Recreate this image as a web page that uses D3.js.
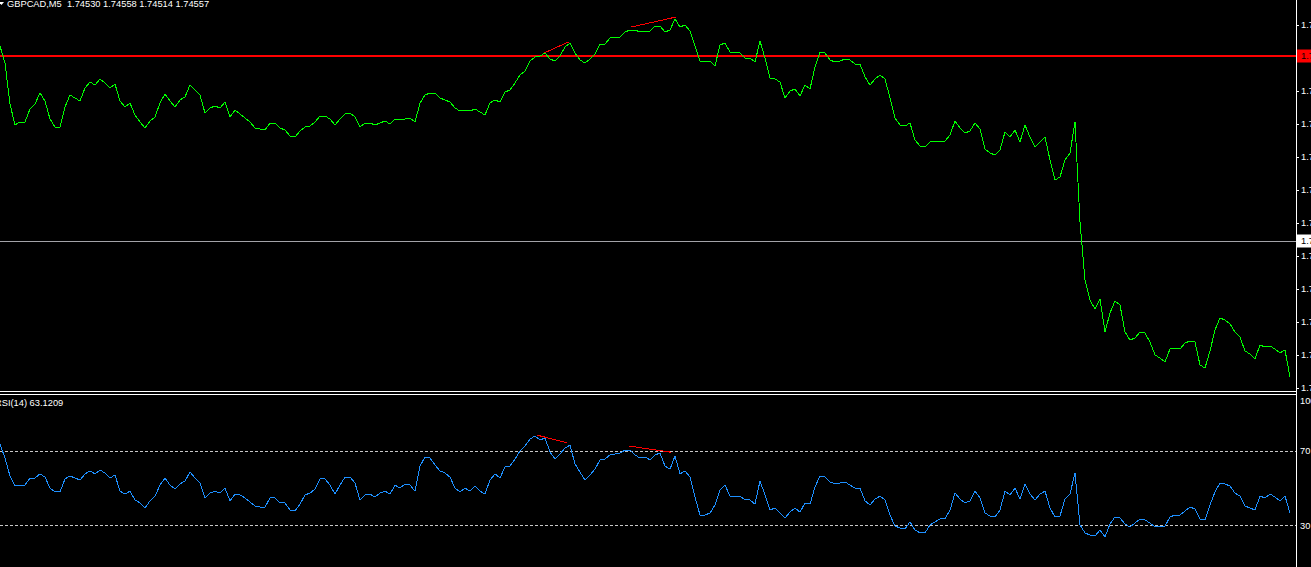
<!DOCTYPE html>
<html><head><meta charset="utf-8">
<script src="https://cdn.jsdelivr.net/npm/d3@7"></script>
<style>html,body{margin:0;padding:0;background:#000;overflow:hidden}svg{display:block}text{white-space:pre}</style>
</head><body><div id="chart"></div>
<script>
const symbolTitle = "GBPCAD,M5  1.74530 1.74558 1.74514 1.74557";
const rsiTitle = "RSI(14) 63.1209";

const prices = [
1.74888,1.74871,1.74830,1.74809,1.74812,1.74812,1.74825,1.74830,1.74841,1.74833,
1.74815,1.74807,1.74807,1.74827,1.74839,1.74836,1.74833,1.74846,1.74852,1.74849,
1.74855,1.74851,1.74846,1.74850,1.74833,1.74827,1.74831,1.74819,1.74812,1.74806,
1.74813,1.74817,1.74831,1.74840,1.74833,1.74827,1.74834,1.74837,1.74849,1.74844,
1.74839,1.74821,1.74826,1.74828,1.74826,1.74832,1.74817,1.74824,1.74820,1.74816,
1.74812,1.74806,1.74805,1.74804,1.74811,1.74811,1.74806,1.74804,1.74798,1.74797,
1.74803,1.74807,1.74808,1.74812,1.74818,1.74818,1.74815,1.74809,1.74815,1.74820,
1.74821,1.74817,1.74807,1.74811,1.74811,1.74809,1.74811,1.74813,1.74810,1.74815,
1.74814,1.74815,1.74816,1.74812,1.74831,1.74839,1.74841,1.74841,1.74836,1.74834,
1.74832,1.74826,1.74823,1.74824,1.74823,1.74825,1.74822,1.74819,1.74831,1.74834,
1.74832,1.74842,1.74844,1.74851,1.74859,1.74863,1.74873,1.74877,1.74878,1.74881,
1.74875,1.74873,1.74878,1.74887,1.74891,1.74881,1.74874,1.74871,1.74875,1.74880,
1.74890,1.74890,1.74896,1.74897,1.74897,1.74902,1.74904,1.74904,1.74902,1.74903,
1.74903,1.74908,1.74908,1.74902,1.74904,1.74915,1.74907,1.74909,1.74903,1.74888,
1.74873,1.74873,1.74873,1.74868,1.74889,1.74891,1.74882,1.74882,1.74881,1.74876,
1.74876,1.74872,1.74893,1.74876,1.74856,1.74855,1.74852,1.74836,1.74843,1.74845,
1.74838,1.74849,1.74845,1.74867,1.74882,1.74881,1.74874,1.74872,1.74873,1.74875,
1.74874,1.74870,1.74870,1.74857,1.74849,1.74855,1.74859,1.74855,1.74836,1.74816,
1.74809,1.74808,1.74811,1.74794,1.74788,1.74787,1.74792,1.74793,1.74793,1.74793,
1.74799,1.74813,1.74806,1.74801,1.74803,1.74811,1.74805,1.74785,1.74781,1.74779,
1.74784,1.74802,1.74797,1.74804,1.74792,1.74809,1.74797,1.74787,1.74792,1.74797,
1.74774,1.74754,1.74757,1.74774,1.74781,1.74812,1.74712,1.74654,1.74634,1.74625,
1.74635,1.74602,1.74621,1.74633,1.74629,1.74602,1.74594,1.74596,1.74602,1.74601,
1.74592,1.74579,1.74576,1.74572,1.74585,1.74586,1.74585,1.74591,1.74593,1.74592,
1.74569,1.74566,1.74583,1.74604,1.74616,1.74614,1.74610,1.74602,1.74597,1.74583,
1.74580,1.74575,1.74589,1.74587,1.74588,1.74585,1.74581,1.74584,1.74557
];

const rsi = [
73.8,66.2,56.6,51.2,51.7,51.7,55.5,55.5,57.7,56.0,
50.1,48.0,48.0,55.0,56.6,55.5,54.4,57.7,59.3,57.7,
59.8,58.2,55.5,57.1,48.5,46.9,48.5,43.7,42.1,39.4,
43.2,45.8,51.7,55.5,51.7,49.6,52.3,53.9,58.7,55.5,
52.8,44.8,47.4,48.5,47.4,50.1,43.2,46.9,46.4,44.8,
42.6,40.5,39.9,39.9,44.8,44.8,42.1,42.1,38.3,37.8,
41.5,46.4,47.4,49.6,55.0,55.0,51.7,46.9,51.7,56.0,
56.0,52.8,43.7,46.4,46.9,45.3,47.4,48.5,46.9,51.7,
50.1,52.3,51.7,48.5,61.9,66.8,66.2,62.5,59.3,58.2,
56.0,50.1,48.0,50.1,48.5,51.2,48.5,46.9,54.4,57.7,
55.5,61.4,61.9,65.7,70.0,72.7,76.4,78.1,75.9,77.0,
69.5,65.7,68.4,71.6,73.2,63.0,58.7,54.4,57.1,60.3,
65.2,65.7,67.9,68.4,68.9,70.5,70.5,67.9,66.2,66.8,
65.2,67.9,68.9,61.9,60.3,67.3,57.7,59.3,56.0,45.3,
35.6,35.6,36.7,41.0,49.1,51.7,45.8,45.8,45.8,43.7,
43.7,41.5,53.9,46.4,38.3,39.4,36.7,34.0,37.2,39.4,
37.2,42.1,41.5,50.7,56.6,56.0,53.4,52.3,52.8,53.4,
51.7,50.1,50.1,43.2,41.0,44.2,45.8,43.7,35.6,29.7,
28.7,28.1,31.9,27.6,26.0,26.0,30.3,31.9,33.5,33.5,
38.3,47.4,44.2,42.1,43.2,48.5,44.8,36.7,35.1,34.6,
38.3,48.5,46.4,50.1,44.2,52.3,46.9,43.7,46.9,48.5,
39.4,34.6,35.1,44.2,46.9,58.2,30.3,26.0,24.9,24.4,
27.6,23.8,30.8,34.6,34.0,30.8,29.2,31.3,33.5,33.0,
31.3,29.2,29.2,29.7,34.6,35.6,35.6,37.8,39.9,38.9,
33.5,33.0,41.0,48.0,52.8,52.3,51.2,47.4,45.8,40.5,
39.4,38.3,45.8,44.8,46.9,45.3,43.2,45.8,36.7
];

const priceTicks = [1.74909,1.74876,1.74843,1.74810,1.74777,1.74744,1.74711,1.74678,1.74645,1.74612,1.74579,1.74546];
const rsiTicks = [100, 70, 30];
const rsiLevels = [70, 30];
const redLevel = 1.74878;
const grayLevel = 1.74693;
const priceDivergences = [[[108.8,1.74881],[113.7,1.74892]], [[126.3,1.74907],[135.2,1.74917]]];
const rsiDivergences = [[[107.3,78.6],[113.3,74.5]], [[125.7,72.7],[134.3,69.3]]];

const W = 1311, H = 567;
const axisX = 1296.5;
const FONT = "'Liberation Sans', Arial, sans-serif";

const svg = d3.select("#chart").append("svg").attr("width", W).attr("height", H)
  .style("background", "#000");

const x = d3.scaleLinear().domain([0, prices.length - 1]).range([0, 1290]);
const yP = d3.scaleLinear().domain([1.74545, 1.74934]).range([389, 0]);
const yR = d3.scaleLinear().domain([30, 70]).range([525.5, 451]);

const defs = svg.append("defs");
defs.append("clipPath").attr("id", "clipP").append("rect").attr("x", 0).attr("y", 0).attr("width", 1296).attr("height", 390);
defs.append("clipPath").attr("id", "clipR").append("rect").attr("x", 0).attr("y", 395).attr("width", 1296).attr("height", H - 395);

// ---- Price panel ----
const gP = svg.append("g").attr("clip-path", "url(#clipP)");
gP.append("line").attr("x1", 0).attr("x2", 1297).attr("y1", yP(grayLevel)).attr("y2", yP(grayLevel))
  .attr("stroke", "#a3a3a8").attr("stroke-width", 1).attr("shape-rendering", "crispEdges");
gP.append("line").attr("x1", 0).attr("x2", 1297).attr("y1", yP(redLevel)).attr("y2", yP(redLevel))
  .attr("stroke", "#ff0000").attr("stroke-width", 2).attr("shape-rendering", "crispEdges");

const lineP = d3.line().x((d, i) => x(i)).y(d => yP(d));
gP.append("path").datum(prices).attr("d", lineP).attr("fill", "none")
  .attr("stroke", "#00ff00").attr("stroke-width", 1).attr("shape-rendering", "crispEdges");

const divLineP = d3.line().x(d => x(d[0])).y(d => yP(d[1]));
gP.selectAll(".divP").data(priceDivergences).enter().append("path").attr("d", divLineP)
  .attr("fill", "none").attr("stroke", "#ff0000").attr("stroke-width", 1).attr("shape-rendering", "crispEdges");

// ---- RSI panel ----
const gR = svg.append("g").attr("clip-path", "url(#clipR)");
gR.selectAll(".lvl").data(rsiLevels).enter().append("line")
  .attr("x1", 0).attr("x2", 1297).attr("y1", d => yR(d)).attr("y2", d => yR(d))
  .attr("stroke", "#c8c8c8").attr("stroke-width", 1).attr("stroke-dasharray", "3,2")
  .attr("shape-rendering", "crispEdges");
const lineR = d3.line().x((d, i) => x(i)).y(d => yR(d));
gR.append("path").datum(rsi).attr("d", lineR).attr("fill", "none")
  .attr("stroke", "#1e90ff").attr("stroke-width", 1).attr("shape-rendering", "crispEdges");
const divLineR = d3.line().x(d => x(d[0])).y(d => yR(d[1]));
gR.selectAll(".divR").data(rsiDivergences).enter().append("path").attr("d", divLineR)
  .attr("fill", "none").attr("stroke", "#ff0000").attr("stroke-width", 1).attr("shape-rendering", "crispEdges");

// ---- Separators and axis line ----
[391.5, 394.5].forEach(yy => svg.append("line").attr("x1", 0).attr("x2", 1297).attr("y1", yy).attr("y2", yy)
  .attr("stroke", "#ffffff").attr("stroke-width", 1));
svg.append("line").attr("x1", axisX).attr("x2", axisX).attr("y1", 0).attr("y2", H)
  .attr("stroke", "#ffffff").attr("stroke-width", 1);

// ---- Price axis ----
const axP = svg.append("g").attr("transform", "translate(1297,0)")
  .call(d3.axisRight(yP).tickValues(priceTicks).tickSize(2).tickPadding(2).tickFormat(d3.format(".5f")));
axP.select(".domain").remove();
axP.selectAll("line").attr("stroke", "#fff").attr("shape-rendering", "crispEdges");
axP.selectAll("text").attr("fill", "#fff").style("font-family", FONT).style("font-size", "9.3px");

// price label boxes
function priceBox(val, bg) {
  const g = svg.append("g");
  g.append("rect").attr("x", 1297).attr("y", yP(val) - 6.5).attr("width", 20).attr("height", 13).attr("fill", bg);
  g.append("text").attr("x", 1301).attr("y", yP(val)).attr("dy", "0.32em").text(d3.format(".5f")(val))
    .attr("fill", "#000").style("font-family", FONT).style("font-size", "9.3px");
}
priceBox(redLevel, "#ff0000");
priceBox(grayLevel, "#ffffff");

// ---- RSI axis ----
const axR = svg.append("g").attr("transform", "translate(1297,0)")
  .call(d3.axisRight(yR).tickValues(rsiTicks).tickSize(0).tickPadding(3).tickFormat(d3.format("d")));
axR.select(".domain").remove();
axR.selectAll("line").remove();
axR.selectAll("text").attr("fill", "#fff").style("font-family", FONT).style("font-size", "9.3px");
axR.selectAll(".tick").filter(d => d === 100).select("text").attr("dy", "0.9em");

// ---- Titles ----
svg.append("path").attr("d", "M-1,2 L4,2 L1.5,5 Z").attr("fill", "#ffffff");
svg.append("text").attr("x", 7).attr("y", 7).attr("xml:space", "preserve").text(symbolTitle)
  .attr("fill", "#ffffff").style("font-family", FONT).style("font-size", "9.3px");
svg.append("text").attr("x", -5).attr("y", 406).text(rsiTitle)
  .attr("fill", "#ffffff").style("font-family", FONT).style("font-size", "9.3px");
</script>
</body></html>
